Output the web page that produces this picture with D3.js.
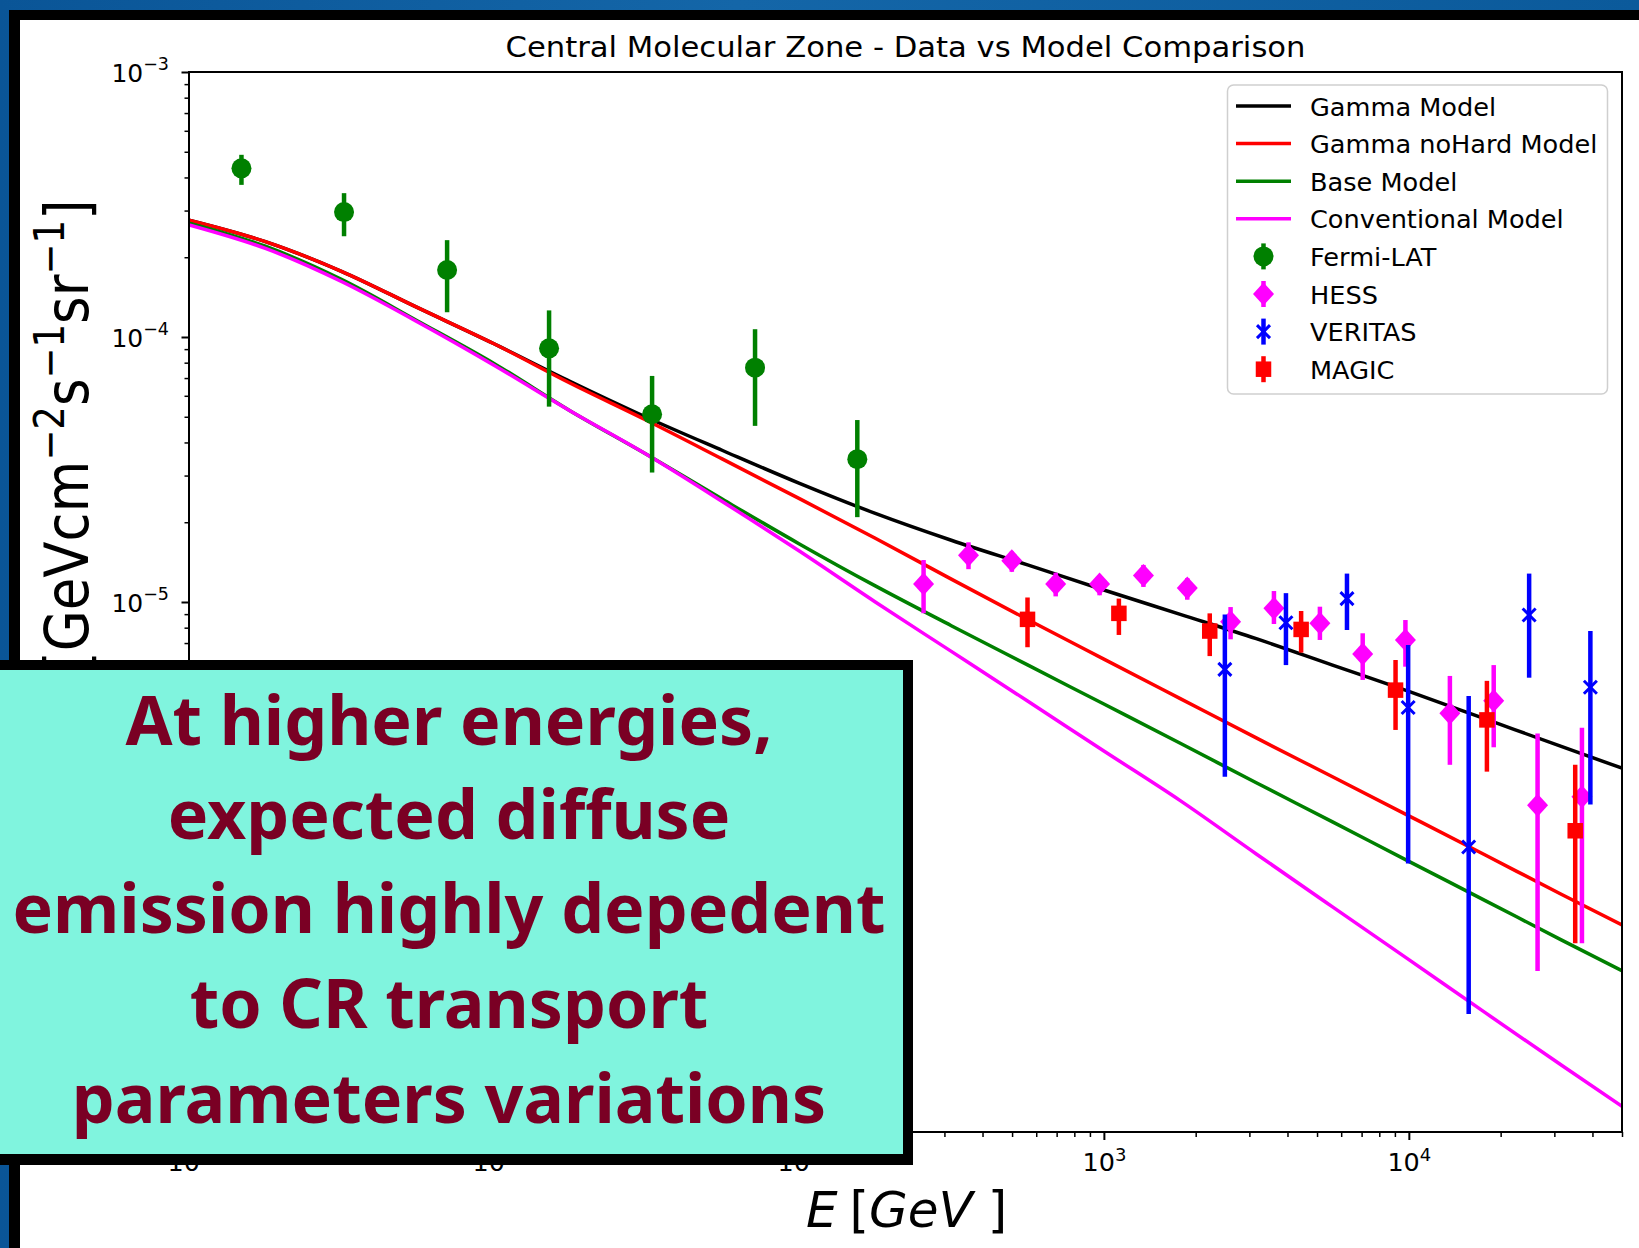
<!DOCTYPE html>
<html>
<head>
<meta charset="utf-8">
<script src="https://cdn.jsdelivr.net/npm/d3@7"></script>
<style>
  html, body { margin: 0; padding: 0; background: #0b5a9a; }
  svg { display: block; }
  text { font-family: "DejaVu Sans", sans-serif; }
</style>
</head>
<body>
<svg id="chart" width="1639" height="1248"></svg>
<script>
// ---- Model curves (E in GeV, flux in GeV cm^-2 s^-1 sr^-1) ----
const modelE = [1, 1.78, 3.16, 5.62, 10, 17.8, 31.6, 56.2, 100, 178, 316, 562,
                1000, 1780, 3160, 5620, 10000, 17800, 31600, 50000];
const gammaModel = [2.76e-4, 2.29e-4, 1.77e-4, 1.29e-4, 9.43e-5, 6.79e-5, 4.98e-5, 3.73e-5,
                    2.81e-5, 2.16e-5, 1.71e-5, 1.38e-5, 1.11e-5, 8.98e-6, 7.27e-6, 5.78e-6,
                    4.60e-6, 3.62e-6, 2.85e-6, 2.36e-6];
const gammaNoHardModel = [2.76e-4, 2.29e-4, 1.77e-4, 1.29e-4, 9.43e-5, 6.69e-5, 4.85e-5, 3.46e-5,
                          2.46e-5, 1.74e-5, 1.22e-5, 8.59e-6, 6.09e-6, 4.32e-6, 3.07e-6, 2.19e-6,
                          1.56e-6, 1.11e-6, 7.89e-7, 6.04e-7];
const baseModel = [2.69e-4, 2.20e-4, 1.65e-4, 1.15e-4, 7.95e-5, 5.26e-5, 3.61e-5, 2.44e-5,
                   1.66e-5, 1.15e-5, 8.14e-6, 5.79e-6, 4.12e-6, 2.93e-6, 2.08e-6, 1.48e-6,
                   1.05e-6, 7.47e-7, 5.31e-7, 4.06e-7];
const conventionalModel = [2.65e-4, 2.16e-4, 1.62e-4, 1.14e-4, 7.83e-5, 5.26e-5, 3.61e-5, 2.39e-5,
                           1.56e-5, 1.00e-5, 6.51e-6, 4.23e-6, 2.74e-6, 1.78e-6, 1.12e-6, 7.07e-7,
                           4.47e-7, 2.82e-7, 1.79e-7, 1.25e-7];

// ---- Measurements: energy, flux, lower and upper error bounds ----
const fermiE  = [1.486, 3.224, 7.02, 15.16, 33.0, 71.8, 155.4];
const fermiF  = [4.33e-4, 2.96e-4, 1.79e-4, 9.06e-5, 5.11e-5, 7.66e-5, 3.46e-5];
const fermiLo = [3.75e-4, 2.40e-4, 1.24e-4, 5.46e-5, 3.08e-5, 4.62e-5, 2.09e-5];
const fermiHi = [4.87e-4, 3.49e-4, 2.32e-4, 1.26e-4, 7.13e-5, 1.07e-4, 4.86e-5];

const hessE  = [256.3, 359.8, 499, 695, 968, 1348, 1877, 2603, 3611, 5109, 7058, 9745,
                13633, 18980, 26430, 36950];
const hessF  = [1.17e-5, 1.50e-5, 1.43e-5, 1.17e-5, 1.17e-5, 1.26e-5, 1.13e-5, 8.43e-6,
                9.47e-6, 8.31e-6, 6.37e-6, 7.19e-6, 3.80e-6, 4.24e-6, 1.71e-6, 1.84e-6];
const hessLo = [9.07e-6, 1.33e-5, 1.30e-5, 1.05e-5, 1.06e-5, 1.14e-5, 1.02e-5, 7.23e-6,
                8.26e-6, 7.19e-6, 5.08e-6, 5.70e-6, 2.43e-6, 2.83e-6, 4.05e-7, 5.15e-7];
const hessHi = [1.44e-5, 1.68e-5, 1.55e-5, 1.29e-5, 1.26e-5, 1.38e-5, 1.23e-5, 9.57e-6,
                1.10e-5, 9.60e-6, 7.62e-6, 8.55e-6, 5.26e-6, 5.78e-6, 3.19e-6, 3.35e-6];

const veritasE  = [2493, 3954, 6268, 9948, 15712, 24800, 39380];
const veritasF  = [5.57e-6, 8.35e-6, 1.03e-5, 4.00e-6, 1.19e-6, 8.93e-6, 4.77e-6];
const veritasLo = [2.19e-6, 5.78e-6, 7.84e-6, 1.03e-6, 2.79e-7, 5.18e-6, 1.72e-6];
const veritasHi = [8.98e-6, 1.08e-5, 1.28e-5, 6.88e-6, 4.42e-6, 1.28e-5, 7.77e-6];

const magicE  = [561.8, 1120, 2224, 4434, 9045, 18030, 35120];
const magicF  = [8.60e-6, 9.06e-6, 7.77e-6, 7.88e-6, 4.65e-6, 3.59e-6, 1.37e-6];
const magicLo = [6.75e-6, 7.51e-6, 6.25e-6, 6.44e-6, 3.29e-6, 2.29e-6, 5.15e-7];
const magicHi = [1.04e-5, 1.03e-5, 9.06e-6, 9.25e-6, 6.04e-6, 5.04e-6, 2.43e-6];

// ---- Axis ticks and text ----
const xTickExp = [0, 1, 2, 3, 4];
const yTickExp = [-7, -6, -5, -4, -3];
const titleText = "Central Molecular Zone - Data vs Model Comparison";
const legendLabels = ["Gamma Model", "Gamma noHard Model", "Base Model", "Conventional Model",
                      "Fermi-LAT", "HESS", "VERITAS", "MAGIC"];
const noteLines = ["At higher energies,", "expected diffuse", "emission highly depedent",
                   "to CR transport", "parameters variations"];

// ---- Layout ----
const W = 1639, H = 1248;
const plot = { left: 189, right: 1622, top: 72, bottom: 1132 };
const noteBox = { x: -20, y: 660, right: 913, bottom: 1165, border: 10 };
const svg = d3.select("#chart");

const x = d3.scaleLog().domain([1, 5e4]).range([plot.left, plot.right]);
const y = d3.scaleLog().domain([1e-7, 1e-3]).range([plot.bottom, plot.top]);

// slide background and framed white panel
const defs = svg.append("defs");
const bgGrad = defs.append("linearGradient").attr("id", "bgStreak")
  .attr("x1", 0).attr("y1", 0).attr("x2", 1).attr("y2", 0);
bgGrad.append("stop").attr("offset", "0%").attr("stop-color", "#0a5597");
bgGrad.append("stop").attr("offset", "45%").attr("stop-color", "#1466a8");
bgGrad.append("stop").attr("offset", "100%").attr("stop-color", "#0b5a9b");
svg.append("rect").attr("width", W).attr("height", H).attr("fill", "url(#bgStreak)");
svg.append("rect").attr("x", 9).attr("y", 10).attr("width", W).attr("height", H).attr("fill", "#000");
svg.append("rect").attr("x", 20).attr("y", 20).attr("width", W).attr("height", H).attr("fill", "#fff");

// title
svg.append("text")
  .attr("x", (plot.left + plot.right) / 2).attr("y", 56.5)
  .attr("text-anchor", "middle").attr("font-size", 28.5).attr("fill", "#000")
  .attr("textLength", 800).attr("lengthAdjust", "spacingAndGlyphs")
  .text(titleText);

// clip for curves and data
defs.append("clipPath").attr("id", "plotClip")
  .append("rect").attr("x", plot.left).attr("y", plot.top)
  .attr("width", plot.right - plot.left).attr("height", plot.bottom - plot.top);

const gPlot = svg.append("g").attr("clip-path", "url(#plotClip)");

// model lines
const line = d3.line().curve(d3.curveMonotoneX).x(d => x(d[0])).y(d => y(d[1]));
const models = [
  { values: gammaModel, color: "#000000" },
  { values: gammaNoHardModel, color: "#ff0000" },
  { values: baseModel, color: "#008000" },
  { values: conventionalModel, color: "#ff00ff" }
];
models.forEach(m => {
  gPlot.append("path")
    .datum(modelE.map((e, i) => [e, m.values[i]]))
    .attr("d", line).attr("fill", "none")
    .attr("stroke", m.color).attr("stroke-width", 3.5)
    .attr("stroke-linejoin", "round");
});

// marker shapes
function drawMarker(g, kind, cx, cy, color) {
  if (kind === "circle") {
    g.append("circle").attr("cx", cx).attr("cy", cy).attr("r", 10).attr("fill", color);
  } else if (kind === "diamond") {
    g.append("path").attr("d", `M${cx},${cy - 11.5} L${cx + 10.5},${cy} L${cx},${cy + 11.5} L${cx - 10.5},${cy} Z`)
      .attr("fill", color);
  } else if (kind === "x") {
    g.append("path").attr("d", `M${cx - 6.5},${cy - 6.5} L${cx + 6.5},${cy + 6.5} M${cx - 6.5},${cy + 6.5} L${cx + 6.5},${cy - 6.5}`)
      .attr("stroke", color).attr("stroke-width", 3).attr("fill", "none");
  } else if (kind === "square") {
    g.append("rect").attr("x", cx - 7.75).attr("y", cy - 7.75).attr("width", 15.5).attr("height", 15.5)
      .attr("fill", color);
  }
}

const datasets = [
  { E: fermiE, F: fermiF, lo: fermiLo, hi: fermiHi, color: "#008000", marker: "circle" },
  { E: hessE, F: hessF, lo: hessLo, hi: hessHi, color: "#ff00ff", marker: "diamond" },
  { E: veritasE, F: veritasF, lo: veritasLo, hi: veritasHi, color: "#0000ff", marker: "x" },
  { E: magicE, F: magicF, lo: magicLo, hi: magicHi, color: "#ff0000", marker: "square" }
];
datasets.forEach(ds => {
  const g = gPlot.append("g");
  ds.E.forEach((e, i) => {
    g.append("line")
      .attr("x1", x(e)).attr("x2", x(e))
      .attr("y1", y(ds.lo[i])).attr("y2", y(ds.hi[i]))
      .attr("stroke", ds.color).attr("stroke-width", 4.5);
    drawMarker(g, ds.marker, x(e), y(ds.F[i]), ds.color);
  });
});

// axes: log minor ticks plus labelled decades
const minorVals = (lo, hi) => {
  const out = [];
  for (let p = lo; p < hi; p++) for (let k = 2; k <= 9; k++) out.push(k * Math.pow(10, p));
  return out;
};
const xMinor = minorVals(0, 5).filter(v => v <= 5e4);
const yMinor = minorVals(-7, -3);

const gx = svg.append("g").attr("transform", `translate(0,${plot.bottom})`);
gx.append("g").call(d3.axisBottom(x).tickValues(xMinor).tickSize(5).tickFormat(""))
  .call(g => { g.select(".domain").remove(); g.selectAll(".tick line").attr("stroke", "#000").attr("stroke-width", 1.5); });
gx.append("g").call(d3.axisBottom(x).tickValues(xTickExp.map(p => Math.pow(10, p))).tickSize(8).tickFormat(""))
  .call(g => {
    g.select(".domain").remove();
    g.selectAll(".tick line").attr("stroke", "#000").attr("stroke-width", 2);
    g.selectAll(".tick").each(function (d, i) {
      const t = d3.select(this).append("text")
        .attr("y", 39).attr("text-anchor", "middle").attr("fill", "#000").attr("font-size", 25.5);
      t.append("tspan").text("10");
      t.append("tspan").attr("font-size", 18).attr("dy", -10.5).text(String(xTickExp[i]));
    });
  });

const gy = svg.append("g").attr("transform", `translate(${plot.left},0)`);
gy.append("g").call(d3.axisLeft(y).tickValues(yMinor).tickSize(4.5).tickFormat(""))
  .call(g => { g.select(".domain").remove(); g.selectAll(".tick line").attr("stroke", "#000").attr("stroke-width", 1.5); });
gy.append("g").call(d3.axisLeft(y).tickValues(yTickExp.map(p => Math.pow(10, p))).tickSize(7.5).tickFormat(""))
  .call(g => {
    g.select(".domain").remove();
    g.selectAll(".tick line").attr("stroke", "#000").attr("stroke-width", 2);
    g.selectAll(".tick").each(function (d, i) {
      // decades that sit under the annotation box carry no visible label
      if (y(d) > noteBox.y) return;
      const t = d3.select(this).append("text")
        .attr("x", -20).attr("y", 9.5).attr("text-anchor", "end").attr("fill", "#000").attr("font-size", 25);
      t.append("tspan").text("10");
      t.append("tspan").attr("font-size", 17.5).attr("dy", -12).text("\u2212" + String(-yTickExp[i]));
    });
  });

// spines
svg.append("rect")
  .attr("x", plot.left).attr("y", plot.top)
  .attr("width", plot.right - plot.left).attr("height", plot.bottom - plot.top)
  .attr("fill", "none").attr("stroke", "#000").attr("stroke-width", 2);

// axis labels
const xl = svg.append("text").attr("x", 806).attr("y", 1227).attr("font-size", 50).attr("fill", "#000");
xl.append("tspan").attr("font-style", "italic").text("E");
xl.append("tspan").attr("dx", 12).text("[");
xl.append("tspan").attr("font-style", "italic").text("GeV");
xl.append("tspan").attr("dx", 15).text("]");

const yl = svg.append("g").attr("transform", "translate(88,672) scale(1.14,1) rotate(-90)")
  .append("text").attr("font-size", 53).attr("fill", "#000");
const yParts = [["[GeVcm", 0], ["\u22122", 1], ["s", 0], ["\u22121", 1], ["sr", 0], ["\u22121", 1], ["]", 0]];
yParts.forEach(([s, sup], i) => {
  const prevSup = i > 0 && yParts[i - 1][1] === 1;
  yl.append("tspan")
    .attr("font-size", sup ? 37 : 53)
    .attr("dy", sup ? -21 : (prevSup ? 21 : 0))
    .text(s);
});

// legend
const lg = svg.append("g");
lg.append("rect").attr("x", 1227.5).attr("y", 85).attr("width", 380).attr("height", 309)
  .attr("rx", 6).attr("fill", "#fff").attr("fill-opacity", 0.8)
  .attr("stroke", "#cfcfcf").attr("stroke-width", 1.5);
const legendColors = ["#000000", "#ff0000", "#008000", "#ff00ff", "#008000", "#ff00ff", "#0000ff", "#ff0000"];
const legendMarkers = [null, null, null, null, "circle", "diamond", "x", "square"];
legendLabels.forEach((lab, i) => {
  const cy = 106 + i * 37.6;
  if (legendMarkers[i] === null) {
    lg.append("line").attr("x1", 1236).attr("x2", 1291).attr("y1", cy).attr("y2", cy)
      .attr("stroke", legendColors[i]).attr("stroke-width", 3.5);
  } else {
    lg.append("line").attr("x1", 1263.5).attr("x2", 1263.5).attr("y1", cy - 13).attr("y2", cy + 13)
      .attr("stroke", legendColors[i]).attr("stroke-width", 4.5);
    drawMarker(lg, legendMarkers[i], 1263.5, cy, legendColors[i]);
  }
  lg.append("text").attr("x", 1310).attr("y", cy + 9.5).attr("font-size", 25.6).attr("fill", "#000").text(lab);
});

// annotation box
const note = svg.append("g");
note.append("rect").attr("x", noteBox.x).attr("y", noteBox.y)
  .attr("width", noteBox.right - noteBox.x).attr("height", noteBox.bottom - noteBox.y).attr("fill", "#000");
note.append("rect").attr("x", noteBox.x).attr("y", noteBox.y + noteBox.border)
  .attr("width", noteBox.right - noteBox.x - noteBox.border)
  .attr("height", noteBox.bottom - noteBox.y - 2 * noteBox.border - 1).attr("fill", "#80f4de");
const noteBaselines = [745, 838.5, 933, 1028, 1123];
noteLines.forEach((s, i) => {
  note.append("text").attr("x", 449).attr("y", noteBaselines[i])
    .attr("text-anchor", "middle")
    .style("font-family", "'Noto Sans', sans-serif").attr("font-weight", 700)
    .attr("font-size", 68).attr("fill", "#7a0024").text(s);
});
</script>
</body>
</html>
